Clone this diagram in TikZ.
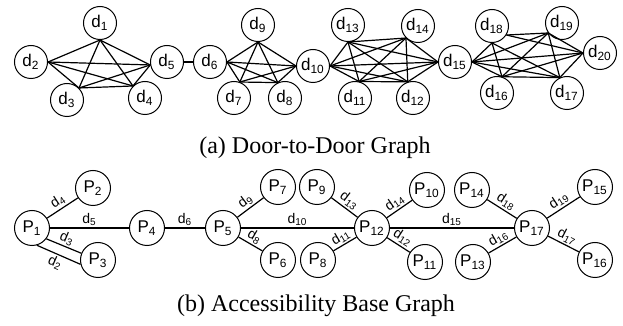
\documentclass[tikz,border=0pt]{standalone}
\usepackage{fontspec}
\setmainfont{Liberation Serif}
\setsansfont{Liberation Sans}
\begin{document}
\begin{tikzpicture}[x=0.5pt,y=-0.5pt]
    % \draw[help lines] (0,0) grid[step=20] (623,326);
    \tikzstyle{every node}=[font=\sffamily\fontsize{8.5}{10}\selectfont]
    \tikzstyle{door}=[draw=black,circle,line width=0.5pt,minimum size=16.5pt,inner sep=0pt]
    \tikzstyle{place}=[door,minimum size=17.5pt]
    \tikzstyle{link}=[line width=0.6pt]
    \tikzstyle{dist}=[font=\sffamily\fontsize{7}{8}\selectfont,inner sep=0.8pt,sloped,above]
    \tikzstyle{caption}=[font=\rmfamily\fontsize{12}{14}\selectfont,anchor=base]
    \useasboundingbox (0,0) rectangle (623,326);

    % door-to-door graph
    \node[door] (d1) at (100,23) {d\textsubscript{1}};
    \node[door] (d2) at (31,62) {d\textsubscript{2}};
    \node[door] (d3) at (67,100) {d\textsubscript{3}};
    \node[door] (d4) at (145,98) {d\textsubscript{4}};
    \node[door] (d5) at (167,62) {d\textsubscript{5}};
    \node[door] (d6) at (210,62) {d\textsubscript{6}};
    \node[door] (d9) at (258,25) {d\textsubscript{9}};
    \node[door] (d7) at (234,98) {d\textsubscript{7}};
    \node[door] (d8) at (285,98) {d\textsubscript{8}};
    \node[door] (d10) at (313,66) {d\textsubscript{10}};
    \node[door] (d13) at (348,25) {d\textsubscript{13}};
    \node[door] (d11) at (355,98) {d\textsubscript{11}};
    \node[door] (d14) at (418,26) {d\textsubscript{14}};
    \node[door] (d12) at (413,98) {d\textsubscript{12}};
    \node[door] (d15) at (455,62) {d\textsubscript{15}};
    \node[door] (d18) at (492,26) {d\textsubscript{18}};
    \node[door] (d19) at (562,23) {d\textsubscript{19}};
    \node[door] (d20) at (600,53) {d\textsubscript{20}};
    \node[door] (d16) at (497,93) {d\textsubscript{16}};
    \node[door] (d17) at (567,93) {d\textsubscript{17}};

    \foreach \a/\b in {d1.south/d2.east, d1.south/d3.45, d1.south/d4.135, d1.south/d5.190,
                       d2.east/d3.45, d2.east/d4.135, d2.east/d5.190,
                       d3.45/d4.135, d3.45/d5.190, d4.135/d5.190}
      \draw[link] (\a) -- (\b);
    \draw[link] (d5) -- (d6);
    \foreach \a/\b in {d9.south/d6.east, d9.south/d7.70, d9.south/d8.115, d9.south/d10.west,
                       d6.east/d7.70, d6.east/d8.115, d6.east/d10.west,
                       d7.70/d8.115, d7.70/d10.west, d8.115/d10.west}
      \draw[link] (\a) -- (\b);
    \foreach \a/\b in {d10.east/d13.south, d10.east/d14.-135, d10.east/d15.west, d10.east/d11.76, d10.east/d12.108,
                       d13.south/d14.-135, d13.south/d15.west, d13.south/d11.76, d13.south/d12.108,
                       d14.-135/d15.west, d14.-135/d11.76, d14.-135/d12.108,
                       d11.76/d12.108, d11.76/d15.west, d12.108/d15.west}
      \draw[link] (\a) -- (\b);
    \foreach \a/\b in {d15.east/d18.south, d15.east/d19.-144, d15.east/d20.west, d15.east/d16.73, d15.east/d17.115,
                       d18.-32/d19.-144, d18.-32/d20.west, d18.south/d16.73, d18.south/d17.115,
                       d19.-144/d20.west, d19.-144/d16.73, d19.-144/d17.115,
                       d16.73/d17.115, d16.73/d20.west, d17.115/d20.west}
      \draw[link] (\a) -- (\b);

    \node[caption] (capa) at (315,154) {(a) Door-to-Door Graph};

    % accessibility base graph
    \node[place] (p1) at (32,228) {P\textsubscript{1}};
    \node[place] (p2) at (93,188) {P\textsubscript{2}};
    \node[place] (p3) at (98,260) {P\textsubscript{3}};
    \node[place] (p4) at (147,228) {P\textsubscript{4}};
    \node[place] (p5) at (223,228) {P\textsubscript{5}};
    \node[place] (p7) at (278,187) {P\textsubscript{7}};
    \node[place] (p6) at (278,260) {P\textsubscript{6}};
    \node[place] (p9) at (317,187) {P\textsubscript{9}};
    \node[place] (p8) at (318,260) {P\textsubscript{8}};
    \node[place] (p12) at (372,228) {P\textsubscript{12}};
    \node[place] (p10) at (427,190) {P\textsubscript{10}};
    \node[place] (p11) at (425,262) {P\textsubscript{11}};
    \node[place] (p14) at (472,190) {P\textsubscript{14}};
    \node[place] (p13) at (473,262) {P\textsubscript{13}};
    \node[place] (p17) at (532,228) {P\textsubscript{17}};
    \node[place] (p15) at (595,187) {P\textsubscript{15}};
    \node[place] (p16) at (595,260) {P\textsubscript{16}};

    \draw[link] (p1) -- node[dist] {d\textsubscript{4}} (p2);
    \draw[link] (p1) -- node[dist] {d\textsubscript{5}} (p4);
    \draw[link] (p1.-37) -- node[dist] {d\textsubscript{3}} (p3.158);
    \draw[link] (p1.-74) -- node[dist,below] {d\textsubscript{2}} (p3.194);
    \draw[link] (p4) -- node[dist] {d\textsubscript{6}} (p5);
    \draw[link] (p5) -- node[dist] {d\textsubscript{9}} (p7);
    \draw[link] (p5) -- node[dist] {d\textsubscript{8}} (p6);
    \draw[link] (p5) -- node[dist] {d\textsubscript{10}} (p12);
    \draw[link] (p9) -- node[dist] {d\textsubscript{13}} (p12);
    \draw[link] (p8) -- node[dist] {d\textsubscript{11}} (p12);
    \draw[link] (p12) -- node[dist] {d\textsubscript{14}} (p10);
    \draw[link] (p12) -- node[dist] {d\textsubscript{12}} (p11);
    \draw[link] (p12) -- node[dist] {d\textsubscript{15}} (p17);
    \draw[link] (p14) -- node[dist] {d\textsubscript{18}} (p17);
    \draw[link] (p13) -- node[dist] {d\textsubscript{16}} (p17);
    \draw[link] (p17) -- node[dist] {d\textsubscript{19}} (p15);
    \draw[link] (p17) -- node[dist] {d\textsubscript{17}} (p16);

    \node[caption] (capb) at (316,312) {(b) Accessibility Base Graph};
  \end{tikzpicture}
\end{document}
